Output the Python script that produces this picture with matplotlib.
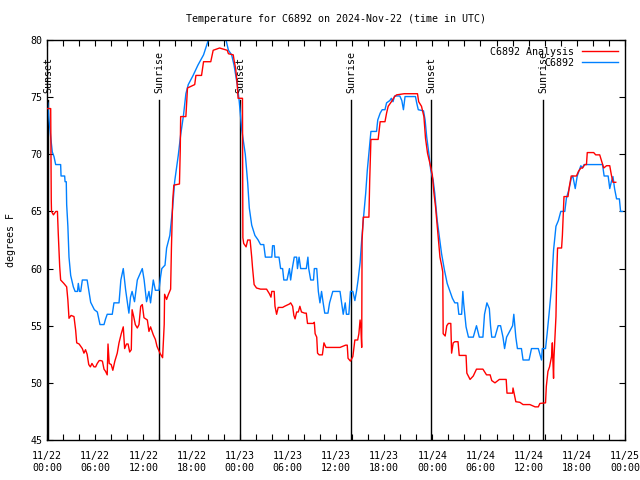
import matplotlib
matplotlib.use("Agg")
import matplotlib.pyplot as plt

# hours since 11/22 00:00 UTC, temperature in F
obs_hours = [0.0, 0.1, 0.25, 0.46, 0.66, 0.87, 1.08, 1.7, 1.75, 2.2, 2.25, 2.4, 2.45, 2.6, 2.74,
             2.95, 3.28, 3.5, 3.8, 3.9, 4.05, 4.2, 4.4, 5.0, 5.2, 5.44, 5.9, 6.27, 6.6, 7.1,
             7.3, 7.5, 8.13, 8.34, 8.97, 9.2, 9.5, 9.8, 10.2, 10.4, 10.6, 10.9, 11.25, 11.87,
             12.1, 12.4, 12.7, 12.9, 13.24, 13.5, 13.95, 14.15, 14.3, 14.7, 14.9, 15.3, 15.65,
             15.9, 16.35, 16.65, 17.0, 17.3, 17.6, 18.2, 18.8, 19.5, 20.1, 20.6, 21.5, 22.0,
             22.3, 22.6, 23.0, 23.3, 23.7, 23.95, 24.25, 24.7, 25.0, 25.2, 25.5, 25.9, 26.3,
             26.6, 27.0, 27.2, 28.0, 28.1, 28.3, 28.4, 28.9, 29.1, 29.35, 29.5, 29.9, 30.2,
             30.35, 30.55, 30.8, 31.1, 31.2, 31.4, 31.6, 32.3, 32.5, 32.6, 32.85, 33.2, 33.3,
             33.6, 33.8, 34.0, 34.2, 34.4, 34.6, 35.0, 35.2, 35.6, 36.5, 36.7, 36.9, 37.15,
             37.3, 37.6, 37.8, 38.1, 38.35, 38.55, 38.75, 39.0, 39.2, 39.4, 39.7, 39.9, 40.1,
             40.35, 41.05, 41.2, 41.5, 41.75, 42.1, 42.3, 42.7, 42.9, 43.1, 43.3, 43.95, 44.2,
             44.4, 44.6, 45.9, 46.05, 46.25, 46.9, 47.1, 47.3, 47.6, 47.8, 48.1, 48.3, 48.6,
             48.9, 49.15, 49.5, 49.85, 50.2, 50.5, 50.8, 51.15, 51.3, 51.65, 51.8, 51.9, 52.2,
             52.5, 53.1, 53.5, 53.85, 54.3, 54.5, 54.8, 55.1, 55.25, 55.4, 55.8, 56.2, 56.5,
             56.8, 57.0, 57.25, 57.7, 58.0, 58.15, 58.4, 58.6, 59.1, 59.3, 60.05, 60.35, 61.2,
             61.4, 61.6, 61.7, 62.1, 62.3, 62.55, 62.85, 63.1, 63.4, 63.7, 64.0, 64.5, 64.7,
             65.05, 65.3, 65.5, 65.8, 66.05, 66.5, 66.7, 66.9, 69.2, 69.4, 69.9, 70.1, 70.3,
             70.5, 70.7, 70.95, 71.3, 71.45, 71.7]
obs_temps = [74.6, 74.5, 73.0, 71.5, 70.2, 69.8, 69.1, 69.1, 68.1, 68.1, 67.6, 67.6, 65.6, 63.7, 61.0,
             59.4, 58.4, 58.0, 58.0, 58.7, 58.0, 58.0, 59.0, 59.0, 58.1, 57.05, 56.4, 56.2, 55.1, 55.1,
             55.6, 56.0, 56.0, 57.0, 57.0, 59.0, 60.0, 58.1, 56.1, 57.5, 58.0, 57.1, 59.0, 60.0,
             59.0, 57.1, 58.0, 57.0, 59.0, 58.1, 58.1, 59.3, 60.0, 60.3, 61.8, 62.9, 65.3,
             67.6, 69.9, 71.7, 73.4, 75.3, 76.1, 76.9, 77.8, 78.7, 80.0, 80.8, 81.0, 80.6,
             80.0, 79.1, 78.7, 77.8, 76.1, 74.6, 72.2, 70.0, 67.5, 65.3, 63.8, 62.9, 62.5,
             62.1, 62.1, 61.0, 61.0, 62.0, 62.0, 61.0, 61.0, 60.0, 60.0, 59.0, 59.0, 60.0,
             59.0, 60.0, 61.0, 61.0, 60.0, 61.0, 60.0, 60.0, 61.0, 60.0, 59.0, 59.0, 60.0,
             60.0, 58.0, 57.0, 58.0, 57.0, 56.1, 56.1, 57.0, 58.0, 58.0, 57.0, 56.0, 57.0,
             56.0, 56.0, 58.0, 58.0, 57.2, 58.0, 59.0, 60.5, 62.5, 64.25, 66.6, 68.6, 70.1,
             72.0, 72.0, 73.0, 73.6, 73.9, 73.9, 74.5, 74.7, 74.9, 74.6, 75.1, 75.1, 74.7,
             73.9, 75.05, 75.05, 74.5, 73.9, 73.8, 73.0, 71.5, 69.9, 68.6, 67.75, 66.6, 64.25,
             62.6, 61.3, 59.9, 58.7, 58.0, 57.4, 57.0, 57.0, 56.0, 56.0, 58.0, 57.0, 54.9,
             54.0, 54.0, 55.0, 54.0, 54.0, 56.0, 57.0, 56.5, 55.0, 54.0, 54.0, 55.0, 55.0,
             54.0, 53.0, 54.0, 54.6, 55.0, 56.0, 54.0, 53.0, 53.0, 52.0, 52.0, 53.0, 53.0,
             52.5, 52.0, 53.0, 53.0, 54.3, 56.1, 58.4, 61.6, 63.7, 64.2, 65.0, 65.0, 66.15,
             67.0, 67.9, 68.1, 67.0, 68.1, 69.0, 68.8, 69.1, 69.1, 68.1, 68.1, 67.0, 67.6,
             68.05, 67.0, 66.1, 66.1, 65.0, 65.0]

ana_hours = [0.0, 0.46, 0.53, 0.56, 0.8, 1.1, 1.3, 1.4, 1.58, 1.7, 2.1, 2.45, 2.6, 2.74, 3.0,
             3.36, 3.57, 3.7, 4.0, 4.4, 4.6, 4.8, 5.0, 5.2, 5.4, 5.6, 5.85, 6.06, 6.26, 6.5,
             6.7, 6.9, 7.1, 7.3, 7.5, 7.6, 7.75, 8.0, 8.2, 8.45, 8.75, 8.97, 9.25, 9.5, 9.67,
             9.9, 10.1, 10.3, 10.5, 10.6, 10.8, 11.0, 11.25, 11.46, 11.67, 11.87, 12.08, 12.5,
             12.7, 12.9, 13.24, 13.5, 13.7, 14.07, 14.4, 14.6, 14.65, 14.9, 15.1, 15.4, 15.5,
             15.65, 15.8, 16.5, 16.6, 16.65, 17.3, 17.5, 18.4, 18.55, 19.25, 19.5, 20.4, 20.7,
             21.5, 22.45, 22.6, 23.2, 23.3, 23.5, 23.7, 23.8, 24.35, 24.4, 24.5, 24.8, 25.0,
             25.3, 25.5, 25.6, 25.8, 26.1, 26.6, 27.35, 27.7, 27.9, 28.0, 28.3, 28.4, 28.6,
             28.8, 29.35, 29.6, 30.2, 30.35, 30.6, 30.75, 30.9, 31.1, 31.3, 31.5, 31.7, 32.1,
             32.3, 32.45, 33.2, 33.3, 33.4, 33.6, 33.7, 33.9, 34.3, 34.5, 34.75, 36.5, 37.2,
             37.4, 37.5, 37.8, 38.1, 38.35, 38.7, 38.85, 39.0, 39.1, 39.2, 39.25, 39.4, 40.1,
             40.2, 40.35, 41.25, 41.5, 42.1, 42.3, 42.5, 42.9, 43.3, 43.55, 44.5, 46.15, 46.3,
             46.65, 46.95, 47.15, 47.4, 47.7, 48.0, 48.2, 48.4, 48.65, 48.95, 49.15, 49.3,
             49.35, 49.6, 49.8, 50.0, 50.3, 50.4, 50.6, 50.8, 51.2, 51.35, 52.2, 52.3, 52.7,
             53.1, 53.5, 54.3, 54.75, 55.2, 55.4, 55.8, 56.35, 57.2, 57.3, 58.0, 58.05, 58.4,
             58.9, 59.3, 60.15, 60.8, 61.2, 61.4, 62.1, 62.2, 62.4, 62.6, 62.85, 62.95, 63.0,
             63.1, 63.15, 63.4, 63.5, 63.6, 64.1, 64.2, 64.4, 64.9, 65.05, 65.3, 65.95, 66.2,
             66.5, 66.7, 67.0, 67.2, 67.3, 68.1, 68.35, 68.85, 69.05, 69.35, 69.7, 70.1, 70.3,
             70.5, 70.85]
ana_temps = [74.0, 74.0, 66.0, 65.0, 64.7, 65.0, 65.0, 63.1, 60.2, 59.0, 58.7, 58.4, 57.25, 55.65, 55.9,
             55.8, 54.6, 53.5, 53.4, 53.0, 52.6, 52.9, 52.5, 51.6, 51.4, 51.7, 51.4, 51.4, 51.7, 51.95,
             51.95, 51.9, 51.2, 51.0, 50.7, 53.4, 51.7, 51.6, 51.1, 51.9, 52.6, 53.5, 54.3, 54.9, 53.0,
             53.4, 53.4, 52.7, 52.9, 56.4, 55.8, 55.1, 54.8, 55.1, 56.7, 56.85, 55.7, 55.5,
             54.5, 54.9, 54.2, 53.8, 53.2, 52.6, 52.2, 55.1, 57.75, 57.3, 57.7, 58.2, 61.8,
             65.85, 67.3, 67.4, 70.4, 73.3, 73.3, 75.8, 76.1, 76.9, 76.9, 78.1, 78.1, 79.1,
             79.3, 79.1, 78.8, 78.7, 78.25, 77.5, 76.1, 74.9, 74.9, 62.7, 62.2, 61.9, 62.5,
             62.5, 61.0, 60.1, 58.6, 58.3, 58.2, 58.2, 57.8, 57.5, 58.0, 58.0, 56.7, 56.0,
             56.6, 56.6, 56.7, 56.9, 57.0, 56.7, 55.9, 55.6, 56.2, 56.2, 56.7, 56.2, 56.1,
             56.1, 55.2, 55.2, 55.3, 54.3, 54.0, 52.6, 52.45, 52.45, 53.5, 53.1, 53.1, 53.3,
             53.3, 52.15, 51.9, 52.3, 53.75, 53.75, 54.3, 55.5, 54.8, 53.1, 62.5, 64.5, 64.5,
             67.75, 71.3, 71.3, 72.85, 72.85, 73.6, 74.2, 74.6, 75.05, 75.2, 75.3, 75.3, 74.6,
             74.2, 73.3, 71.4, 70.1, 69.2, 68.2, 66.6, 65.4, 63.4, 61.0, 60.3, 59.7,
             54.3, 54.1, 55.0, 55.2, 55.2, 52.6, 53.5, 53.6, 53.6, 52.4, 52.4, 50.85, 50.3,
             50.6, 51.2, 51.2, 50.7, 50.7, 50.2, 50.0, 50.3, 50.3, 49.1, 49.1, 49.55, 48.35,
             48.3, 48.1, 48.1, 47.9, 47.9, 48.2, 48.25, 49.7, 51.0, 51.4, 52.3, 53.5, 52.3,
             50.4, 52.2, 55.8, 59.6, 61.8, 61.8, 62.9, 66.3, 66.3, 67.1, 68.1, 68.1, 68.5,
             68.8, 68.8, 69.1, 69.1, 70.15, 70.15, 69.95, 69.95, 69.5, 68.8, 69.0, 69.0, 68.2,
             67.55, 67.55]

sun_hours = [0.15, 13.97, 24.05, 37.88, 47.82, 61.8]
sun_names = ["Sunset", "Sunrise", "Sunset", "Sunrise", "Sunset", "Sunrise"]

tick_hours = list(range(0, 73, 6))
tick_labels = ["11/22\n00:00", "11/22\n06:00", "11/22\n12:00", "11/22\n18:00",
               "11/23\n00:00", "11/23\n06:00", "11/23\n12:00", "11/23\n18:00",
               "11/24\n00:00", "11/24\n06:00", "11/24\n12:00", "11/24\n18:00",
               "11/25\n00:00"]

plt.rcParams['font.family'] = 'DejaVu Sans Mono'
plt.rcParams['font.size'] = 7.2

fig = plt.figure(figsize=(6.4, 4.8), dpi=100)
ax = fig.add_axes([47 / 640, 40 / 480, 578 / 640, 400 / 480])

for h, name in zip(sun_hours, sun_names):
    ax.plot([h, h], [45, 74.75], color='black', lw=1.0, zorder=1)
    ax.text(h, 75.4, name, rotation=90, ha='center', va='bottom', fontsize=7.2)

ax.plot(ana_hours, ana_temps, color='#ff0000', lw=1.0, label='C6892 Analysis', zorder=3)
ax.plot(obs_hours, obs_temps, color='#0080ff', lw=1.0, label='C6892', zorder=2)

ax.set_xlim(0, 72)
ax.set_ylim(45, 80)
ax.set_xticks(tick_hours)
ax.set_xticklabels(tick_labels)
ax.set_xticks(range(0, 73, 2), minor=True)
ax.set_yticks(range(45, 81, 5))
ax.tick_params(which='both', direction='in', top=True, right=True, length=4, width=0.8)
ax.tick_params(axis='x', pad=8)
ax.set_ylabel('degrees F')
ax.yaxis.set_label_coords(-31 / 578, 0.5)
for s in ax.spines.values():
    s.set_linewidth(1.0)

ax.set_title('Temperature for C6892 on 2024-Nov-22 (time in UTC)', fontsize=7.2, pad=13)

leg = ax.legend(loc='upper right', frameon=False, markerfirst=False,
                handlelength=3.6, handletextpad=0.8, borderaxespad=0.3,
                labelspacing=0.1)
for t in leg.get_texts():
    t.set_ha('right')

fig.savefig('out.png', dpi=100)
